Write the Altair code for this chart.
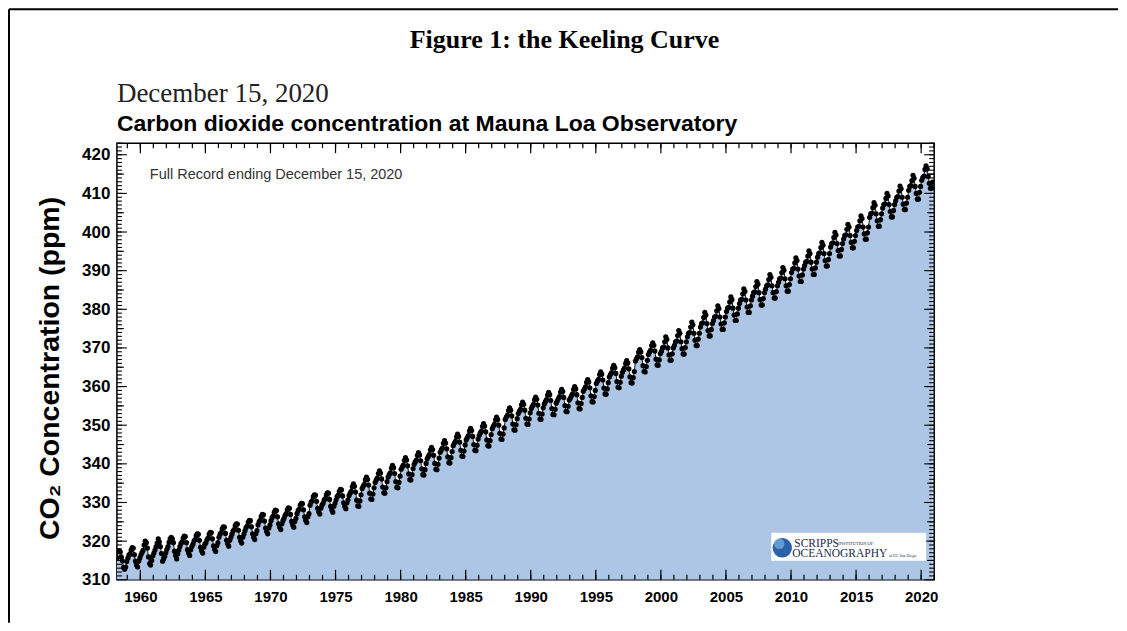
import altair as alt
import pandas as pd

# Monthly mean CO2 (ppm) at Mauna Loa (series starts March 1958)
co2_1958_1959 = [315.7, 317.5, 317.5, 317.2, 315.9, 314.9, 313.2, 312.7, 313.3, 314.7,
                 315.6, 316.4, 316.7, 317.7, 318.3, 318.2, 316.5, 314.8, 313.8, 313.3, 314.8, 315.6]
co2_1960s = [
    316.4, 317.0, 317.6, 319.0, 320.0, 319.6, 318.2, 315.9, 314.2, 313.8, 315.0, 316.2,
    316.9, 317.7, 318.5, 319.5, 320.6, 319.8, 318.6, 316.8, 314.8, 315.4, 316.1, 317.0,
    317.9, 318.6, 319.7, 320.6, 321.0, 320.6, 319.6, 317.4, 316.3, 315.4, 316.7, 317.7,
    318.6, 319.4, 319.8, 320.8, 321.3, 321.2, 319.6, 317.8, 316.9, 316.3, 317.8, 318.6,
    319.2, 320.0, 320.4, 321.4, 321.9, 321.8, 320.2, 318.4, 317.5, 316.9, 318.4, 319.2,
    319.6, 320.4, 320.8, 321.8, 322.3, 322.2, 320.6, 318.8, 317.9, 317.3, 318.8, 319.6,
    321.0, 321.8, 322.2, 323.2, 323.7, 323.6, 322.0, 320.2, 319.3, 318.7, 320.2, 321.0,
    321.8, 322.6, 323.0, 324.0, 324.5, 324.4, 322.8, 321.0, 320.1, 319.5, 321.0, 321.8,
    322.7, 323.5, 323.9, 324.9, 325.4, 325.3, 323.7, 321.9, 321.0, 320.4, 321.9, 322.7,
    324.2, 325.0, 325.4, 326.4, 326.9, 326.8, 325.2, 323.4, 322.5, 321.9, 323.4, 324.2,
]
co2_1970s = [
    325.3, 326.1, 326.5, 327.5, 328.0, 327.9, 326.3, 324.5, 323.6, 323.0, 324.5, 325.3,
    325.9, 326.7, 327.1, 328.1, 328.6, 328.5, 326.9, 325.1, 324.2, 323.6, 325.1, 325.9,
    327.1, 327.9, 328.3, 329.3, 329.8, 329.7, 328.1, 326.3, 325.4, 324.8, 326.3, 327.1,
    329.3, 330.1, 330.5, 331.5, 332.0, 331.9, 330.3, 328.5, 327.6, 327.0, 328.5, 329.3,
    329.8, 330.6, 331.0, 332.0, 332.5, 332.4, 330.8, 329.0, 328.1, 327.5, 329.0, 329.8,
    330.7, 331.5, 331.9, 332.9, 333.4, 333.3, 331.7, 329.9, 329.0, 328.4, 329.9, 330.7,
    331.8, 332.4, 332.9, 334.1, 334.8, 334.2, 332.7, 330.6, 329.1, 329.0, 330.4, 332.0,
    333.6, 334.2, 334.7, 335.9, 336.6, 336.0, 334.5, 332.4, 330.9, 330.8, 332.2, 333.8,
    335.2, 335.8, 336.3, 337.5, 338.2, 337.6, 336.1, 334.0, 332.5, 332.4, 333.8, 335.4,
    336.6, 337.2, 337.7, 338.9, 339.6, 339.0, 337.5, 335.4, 333.9, 333.8, 335.2, 336.8,
]
co2_1980s = [
    338.6, 339.2, 339.7, 340.9, 341.6, 341.0, 339.5, 337.4, 335.9, 335.8, 337.2, 338.8,
    339.9, 340.5, 341.0, 342.2, 342.9, 342.3, 340.8, 338.7, 337.2, 337.1, 338.5, 340.1,
    341.3, 341.9, 342.4, 343.6, 344.3, 343.7, 342.2, 340.1, 338.6, 338.5, 339.9, 341.5,
    343.0, 343.6, 344.1, 345.3, 346.0, 345.4, 343.9, 341.8, 340.3, 340.2, 341.6, 343.2,
    344.7, 345.3, 345.8, 347.0, 347.7, 347.1, 345.6, 343.5, 342.0, 341.9, 343.3, 344.9,
    346.2, 346.8, 347.3, 348.5, 349.2, 348.6, 347.1, 345.0, 343.5, 343.4, 344.8, 346.4,
    347.4, 348.0, 348.5, 349.7, 350.4, 349.8, 348.3, 346.2, 344.7, 344.6, 346.0, 347.6,
    349.1, 349.7, 350.2, 351.4, 352.1, 351.5, 350.0, 347.9, 346.4, 346.3, 347.7, 349.3,
    351.5, 352.1, 352.6, 353.8, 354.5, 353.9, 352.4, 350.3, 348.8, 348.7, 350.1, 351.7,
    353.0, 353.6, 354.1, 355.3, 356.0, 355.4, 353.9, 351.8, 350.3, 350.2, 351.6, 353.2,
]
co2_1990s = [
    354.3, 354.9, 355.4, 356.6, 357.3, 356.7, 355.2, 353.1, 351.6, 351.5, 352.9, 354.5,
    355.5, 356.1, 356.6, 357.8, 358.5, 357.9, 356.4, 354.3, 352.8, 352.7, 354.1, 355.7,
    356.3, 356.9, 357.4, 358.6, 359.3, 358.7, 357.2, 355.1, 353.6, 353.5, 354.9, 356.5,
    357.0, 357.6, 358.1, 359.3, 360.0, 359.4, 357.9, 355.8, 354.3, 354.2, 355.6, 357.2,
    358.8, 359.4, 359.9, 361.1, 361.8, 361.2, 359.7, 357.6, 356.1, 356.0, 357.4, 359.0,
    360.8, 361.4, 361.9, 363.1, 363.8, 363.2, 361.7, 359.6, 358.1, 358.0, 359.4, 361.0,
    362.5, 363.1, 363.6, 364.8, 365.5, 364.9, 363.4, 361.3, 359.8, 359.7, 361.1, 362.7,
    363.7, 364.3, 364.8, 366.0, 366.7, 366.1, 364.6, 362.5, 361.0, 360.9, 362.3, 363.9,
    366.6, 367.2, 367.7, 368.9, 369.6, 369.0, 367.5, 365.4, 363.9, 363.8, 365.2, 366.8,
    368.3, 368.9, 369.4, 370.6, 371.3, 370.7, 369.2, 367.1, 365.6, 365.5, 366.9, 368.5,
]
co2_2000s = [
    369.1, 370.0, 370.2, 371.6, 372.9, 372.2, 370.0, 368.2, 366.8, 366.8, 368.5, 370.0,
    370.7, 371.6, 371.8, 373.2, 374.5, 373.8, 371.6, 369.8, 368.4, 368.4, 370.1, 371.6,
    372.9, 373.8, 374.0, 375.4, 376.7, 376.0, 373.8, 372.0, 370.6, 370.6, 372.3, 373.8,
    375.4, 376.3, 376.5, 377.9, 379.2, 378.5, 376.3, 374.5, 373.1, 373.1, 374.8, 376.3,
    377.1, 378.0, 378.2, 379.6, 380.9, 380.2, 378.0, 376.2, 374.8, 374.8, 376.5, 378.0,
    379.4, 380.3, 380.5, 381.9, 383.2, 382.5, 380.3, 378.5, 377.1, 377.1, 378.8, 380.3,
    381.5, 382.4, 382.6, 384.0, 385.3, 384.6, 382.4, 380.6, 379.2, 379.2, 380.9, 382.4,
    383.4, 384.3, 384.5, 385.9, 387.2, 386.5, 384.3, 382.5, 381.1, 381.1, 382.8, 384.3,
    385.2, 386.1, 386.3, 387.7, 389.0, 388.3, 386.1, 384.3, 382.9, 382.9, 384.6, 386.1,
    387.0, 387.9, 388.1, 389.5, 390.8, 390.1, 387.9, 386.1, 384.7, 384.7, 386.4, 387.9,
]
co2_2010s = [
    389.5, 390.4, 390.6, 392.0, 393.3, 392.6, 390.4, 388.6, 387.2, 387.2, 388.9, 390.4,
    391.3, 392.2, 392.4, 393.8, 395.1, 394.4, 392.2, 390.4, 389.0, 389.0, 390.7, 392.2,
    393.5, 394.4, 394.6, 396.0, 397.3, 396.6, 394.4, 392.6, 391.2, 391.2, 392.9, 394.4,
    396.1, 397.0, 397.2, 398.6, 399.9, 399.2, 397.0, 395.2, 393.8, 393.8, 395.5, 397.0,
    398.2, 399.1, 399.3, 400.7, 402.0, 401.3, 399.1, 397.3, 395.9, 395.9, 397.6, 399.1,
    400.4, 401.3, 401.5, 402.9, 404.2, 403.5, 401.3, 399.5, 398.1, 398.1, 399.8, 401.3,
    403.8, 404.7, 404.9, 406.3, 407.6, 406.9, 404.7, 402.9, 401.5, 401.5, 403.2, 404.7,
    406.2, 407.1, 407.3, 408.7, 410.0, 409.3, 407.1, 405.3, 403.9, 403.9, 405.6, 407.1,
    408.1, 409.0, 409.2, 410.6, 411.9, 411.2, 409.0, 407.2, 405.8, 405.8, 407.5, 409.0,
    410.8, 411.8, 412.0, 413.3, 414.7, 413.9, 411.8, 410.0, 408.5, 408.5, 410.3, 411.8,
]
co2_2020 = [413.4, 414.1, 414.5, 416.2, 417.1, 416.4, 414.4, 412.6, 411.3, 411.3, 412.9]
series_start_year, series_start_month = 1958, 3

x_major_ticks = [1960, 1965, 1970, 1975, 1980, 1985, 1990, 1995, 2000, 2005, 2010, 2015, 2020]
x_minor_ticks = list(range(1959, 2022))
y_major_ticks = [310, 320, 330, 340, 350, 360, 370, 380, 390, 400, 410, 420]
y_mid_ticks = [315, 325, 335, 345, 355, 365, 375, 385, 395, 405, 415]
y_minor_ticks = list(range(311, 424))

values = co2_1958_1959 + co2_1960s + co2_1970s + co2_1980s + co2_1990s + co2_2000s + co2_2010s + co2_2020
rows = []
yr, mo = series_start_year, series_start_month
for v in values:
    rows.append({"t": yr + (mo - 0.5) / 12.0, "co2": v})
    mo += 1
    if mo == 13:
        mo, yr = 1, yr + 1
df = pd.DataFrame(rows)

W, H = 818, 437
SANS = "Liberation Sans, Helvetica, Arial, sans-serif"
SERIF = "Liberation Serif, Times New Roman, serif"

xscale = alt.Scale(domain=[1958.2, 2021.0], nice=False, zero=False)
yscale = alt.Scale(domain=[310, 423], nice=False, zero=False)
xaxis = alt.Axis(values=x_major_ticks, format="d", ticks=False, domain=False, grid=False,
                 labelFont=SANS, labelFontWeight="bold", labelFontSize=15, labelColor="black",
                 labelPadding=10, title=None)
yaxis = alt.Axis(values=y_major_ticks, ticks=False, domain=False, grid=False,
                 labelFont=SANS, labelFontWeight="bold", labelFontSize=17, labelColor="black",
                 labelPadding=7, title="CO\u2082 Concentration (ppm)", titleFont=SANS,
                 titleFontSize=28.5, titleFontWeight="bold", titleColor="black", titlePadding=17,
                 titleY=225)

X = alt.X("t:Q", scale=xscale, axis=xaxis)
Y = alt.Y("co2:Q", scale=yscale, axis=yaxis)

area = alt.Chart(df).mark_area(color="#adc6e6", clip=True).encode(x=X, y=Y, y2=alt.datum(310))
line = alt.Chart(df).mark_line(color="black", strokeWidth=0.9, clip=True).encode(x=X, y=Y)
dots = alt.Chart(df).mark_circle(color="black", size=27, opacity=1, clip=True).encode(x=X, y=Y)


def xticks(vals, length, top):
    d = pd.DataFrame({"v": vals})
    y0, y1 = (0, length) if top else (H, H - length)
    return alt.Chart(d).mark_rule(color="black", strokeWidth=1.2).encode(
        x=alt.X("v:Q", scale=xscale, axis=xaxis), y=alt.value(y0), y2=alt.value(y1))


def yticks(vals, length, right):
    d = pd.DataFrame({"v": vals})
    x0, x1 = (W, W - length) if right else (0, length)
    return alt.Chart(d).mark_rule(color="black", strokeWidth=1.1).encode(
        y=alt.Y("v:Q", scale=yscale, axis=yaxis), x=alt.value(x0), x2=alt.value(x1))


one = pd.DataFrame({"a": [0]})


def label(text, x, y, **kw):
    return alt.Chart(one).mark_text(text=text, **kw).encode(x=alt.value(x), y=alt.value(y))


tick_layers = [
    xticks(x_minor_ticks, 5, False), xticks(x_major_ticks, 10, False),
    xticks(x_minor_ticks, 5, True), xticks(x_major_ticks, 10, True),
    yticks(y_minor_ticks, 5, False), yticks(y_mid_ticks, 7, False), yticks(y_major_ticks, 10, False),
    yticks(y_minor_ticks, 5, True), yticks(y_mid_ticks, 7, True), yticks(y_major_ticks, 10, True),
]

texts = [
    label("Figure 1: the Keeling Curve", 448, -95, align="center", baseline="alphabetic",
          font=SERIF, fontSize=26, fontWeight="bold", color="black"),
    label("December 15, 2020", 0, -41, align="left", baseline="alphabetic",
          font=SERIF, fontSize=27, color="#222222"),
    label("Carbon dioxide concentration at Mauna Loa Observatory", 0, -12, align="left",
          baseline="alphabetic", font=SANS, fontSize=23, fontWeight="bold", color="black"),
    label("Full Record ending December 15, 2020", 33, 36, align="left", baseline="alphabetic",
          font=SANS, fontSize=14.5, color="#333333"),
]

logo = [
    alt.Chart(one).mark_rect(color="white").encode(
        x=alt.value(655), x2=alt.value(810), y=alt.value(390), y2=alt.value(418)),
    alt.Chart(one).mark_circle(size=380, color="#2a62a8", opacity=1).encode(
        x=alt.value(666), y=alt.value(405)),
    alt.Chart(one).mark_circle(size=110, color="#6fa8dc", opacity=0.8).encode(
        x=alt.value(663), y=alt.value(401)),
    label("SCRIPPS", 678, 404, align="left", baseline="alphabetic", font=SERIF, fontSize=11.5,
          color="#1c2b4d"),
    label("INSTITUTION OF", 722, 402, align="left", baseline="alphabetic", font=SERIF,
          fontSize=4.5, color="#1c2b4d"),
    label("OCEANOGRAPHY", 676, 414, align="left", baseline="alphabetic", font=SERIF,
          fontSize=11.5, color="#1c2b4d"),
    label("at UC San Diego", 773, 414, align="left", baseline="alphabetic", font=SERIF,
          fontSize=4, color="#1c2b4d"),
]

frame = [
    alt.Chart(one).mark_rule(color="black", strokeWidth=2).encode(
        x=alt.value(-108), y=alt.value(-134), y2=alt.value(480)),
    alt.Chart(one).mark_rule(color="black", strokeWidth=2).encode(
        x=alt.value(-108), x2=alt.value(1002), y=alt.value(-134)),
]

chart = alt.layer(area, *tick_layers, line, dots, *logo, *texts, *frame).properties(
    width=W, height=H, padding=0, background="white"
).configure_view(stroke="black", strokeWidth=1.5)

chart.save("out.html", embed_options={"renderer": "svg", "actions": False})
